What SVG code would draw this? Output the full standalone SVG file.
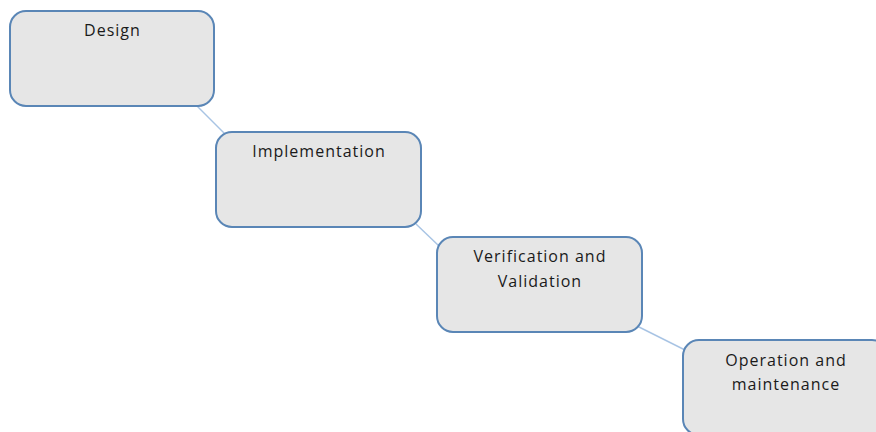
<svg xmlns="http://www.w3.org/2000/svg" width="876" height="432" viewBox="0 0 876 432">
<style>
.box{fill:#e6e6e6;stroke:#5a86b6;stroke-width:2}
.lbl{font-family:"Open Sans","Liberation Sans",sans-serif;font-size:16px;letter-spacing:1px;fill:#1a1a1a;text-anchor:middle}
.conn{stroke:#a8c4e4;stroke-width:1.5;fill:none}
</style>
<rect width="876" height="432" fill="#ffffff"/>
<g id="connectors">
<line class="conn" x1="197" y1="106" x2="225" y2="134"/>
<line class="conn" x1="416" y1="224" x2="439" y2="246"/>
<line class="conn" x1="637" y1="326" x2="685" y2="350"/>
</g>
<g id="design">
<rect class="box" x="10" y="11" width="204" height="95" rx="16" stroke="#6b9bd0"/>
<text class="lbl" x="112.5" y="36">Design</text>
</g>
<g id="implementation">
<rect class="box" x="216" y="132" width="205" height="95" rx="16"/>
<text class="lbl" x="319" y="157">Implementation</text>
</g>
<g id="verification">
<rect class="box" x="437" y="237" width="205" height="95" rx="16"/>
<text class="lbl" x="540" y="262">Verification and</text>
<text class="lbl" x="540" y="287">Validation</text>
</g>
<g id="operation">
<rect class="box" x="683" y="340" width="205" height="95" rx="16"/>
<text class="lbl" x="786" y="366">Operation and</text>
<text class="lbl" x="786" y="390">maintenance</text>
</g>
</svg>
